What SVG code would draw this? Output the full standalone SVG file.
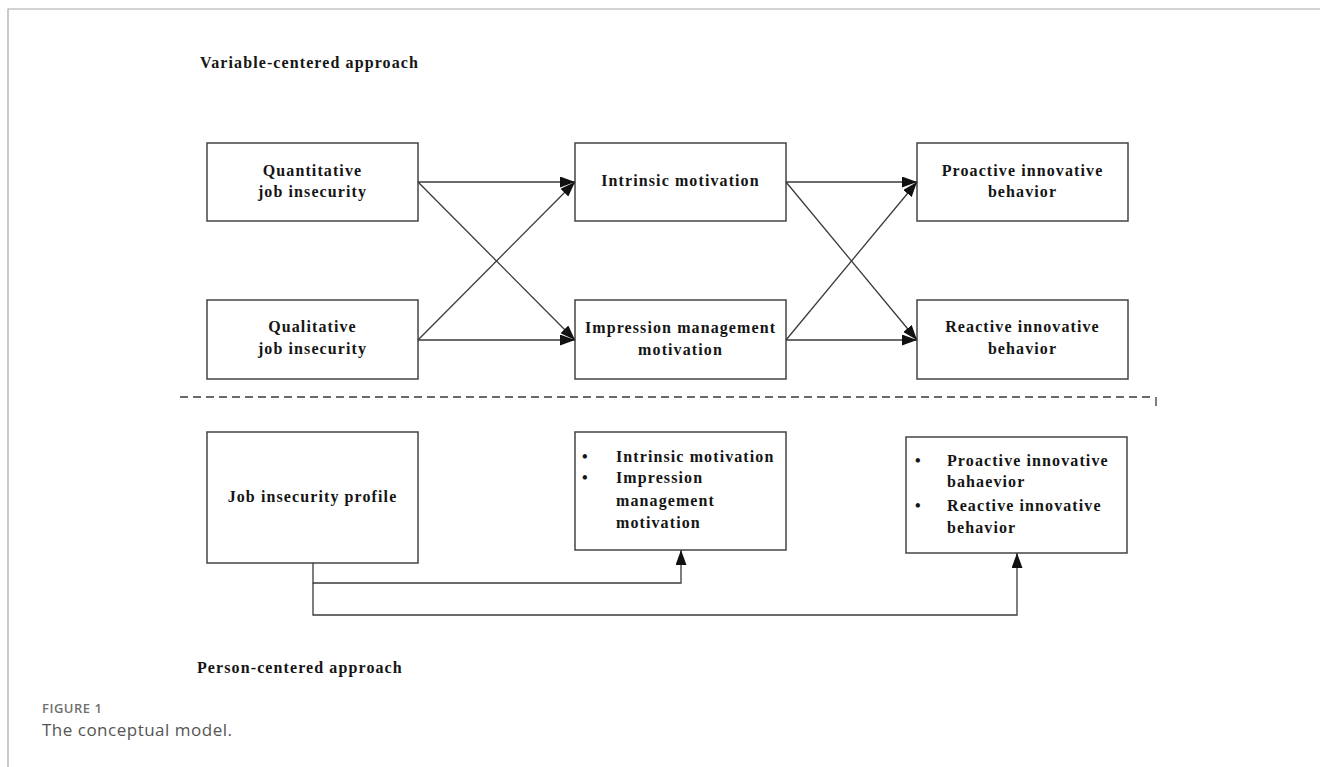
<svg xmlns="http://www.w3.org/2000/svg" width="1320" height="767" viewBox="0 0 1320 767">
  <style>
    .box { fill: #ffffff; stroke: #444444; stroke-width: 1.5; }
    .t { font-family: "Liberation Serif", "Times New Roman", serif; font-weight: bold; font-size: 16px; fill: #151515; letter-spacing: 1.1px; }
    .c { text-anchor: middle; }
    .conn { fill: none; stroke: #3a3a3a; stroke-width: 1.3; }
    .frame { fill: none; stroke: #a8a8a8; stroke-width: 1.2; }
  </style>
  <defs>
    <marker id="arrow" viewBox="0 0 15 11" refX="15" refY="5.5" markerWidth="15" markerHeight="11" markerUnits="userSpaceOnUse" orient="auto">
      <path d="M0,0 L15,5.5 L0,11 z" fill="#111111"/>
    </marker>
  </defs>
  <rect x="0" y="0" width="1320" height="767" fill="#ffffff"/>
  <path class="frame" d="M1320,9 H8 V767"/>

  <text class="t" x="200" y="68">Variable-centered approach</text>
  <text class="t" x="197" y="673">Person-centered approach</text>

  <g id="quantitative">
    <rect class="box" x="207" y="143" width="211" height="78"/>
    <text class="t c" x="312.5" y="176">Quantitative</text>
    <text class="t c" x="312.5" y="197">job insecurity</text>
  </g>
  <g id="qualitative">
    <rect class="box" x="207" y="300" width="211" height="79"/>
    <text class="t c" x="312.5" y="332">Qualitative</text>
    <text class="t c" x="312.5" y="354">job insecurity</text>
  </g>
  <g id="intrinsic">
    <rect class="box" x="575" y="143" width="211" height="78"/>
    <text class="t c" x="680.5" y="186">Intrinsic motivation</text>
  </g>
  <g id="impression">
    <rect class="box" x="575" y="300" width="211" height="79"/>
    <text class="t c" x="680.5" y="333">Impression management</text>
    <text class="t c" x="680.5" y="355">motivation</text>
  </g>
  <g id="proactive">
    <rect class="box" x="917" y="143" width="211" height="78"/>
    <text class="t c" x="1022.5" y="176">Proactive innovative</text>
    <text class="t c" x="1022.5" y="197">behavior</text>
  </g>
  <g id="reactive">
    <rect class="box" x="917" y="300" width="211" height="79"/>
    <text class="t c" x="1022.5" y="332">Reactive innovative</text>
    <text class="t c" x="1022.5" y="354">behavior</text>
  </g>

  <g id="separator">
    <line x1="180" y1="397" x2="1154" y2="397" stroke="#3a3a3a" stroke-width="1.3" stroke-dasharray="8,5"/>
    <line x1="1156" y1="397" x2="1156" y2="406" stroke="#3a3a3a" stroke-width="1.3"/>
  </g>

  <g id="profile">
    <rect class="box" x="207" y="432" width="211" height="131"/>
    <text class="t c" x="312.5" y="502">Job insecurity profile</text>
  </g>
  <g id="motivations">
    <rect class="box" x="575" y="432" width="211" height="118"/>
    <text class="t" x="582" y="462">•</text>
    <text class="t" x="616" y="462">Intrinsic motivation</text>
    <text class="t" x="582" y="483">•</text>
    <text class="t" x="616" y="483">Impression</text>
    <text class="t" x="616" y="506">management</text>
    <text class="t" x="616" y="528">motivation</text>
  </g>
  <g id="behaviors">
    <rect class="box" x="906" y="437" width="221" height="116"/>
    <text class="t" x="915" y="466">•</text>
    <text class="t" x="947" y="466">Proactive innovative</text>
    <text class="t" x="947" y="487">bahaevior</text>
    <text class="t" x="915" y="511">•</text>
    <text class="t" x="947" y="511">Reactive innovative</text>
    <text class="t" x="947" y="533">behavior</text>
  </g>

  <g id="connectors">
    <line class="conn" x1="418" y1="182" x2="575" y2="182" marker-end="url(#arrow)"/>
    <line class="conn" x1="418" y1="182" x2="575" y2="340" marker-end="url(#arrow)"/>
    <line class="conn" x1="418" y1="340" x2="575" y2="182" marker-end="url(#arrow)"/>
    <line class="conn" x1="418" y1="340" x2="575" y2="340" marker-end="url(#arrow)"/>
    <line class="conn" x1="786" y1="182" x2="917" y2="182" marker-end="url(#arrow)"/>
    <line class="conn" x1="786" y1="182" x2="917" y2="340" marker-end="url(#arrow)"/>
    <line class="conn" x1="786" y1="340" x2="917" y2="182" marker-end="url(#arrow)"/>
    <line class="conn" x1="786" y1="340" x2="917" y2="340" marker-end="url(#arrow)"/>
    <path class="conn" d="M313,563 V583 H681 V550" marker-end="url(#arrow)"/>
    <path class="conn" d="M313,583 V615 H1017 V553" marker-end="url(#arrow)"/>
  </g>

  <g id="caption">
    <text x="42" y="713" font-family="'Open Sans', 'Liberation Sans', sans-serif" font-weight="600" font-size="13" letter-spacing="0.5" fill="#707070">FIGURE 1</text>
    <text x="42" y="736" font-family="'Open Sans', 'Liberation Sans', sans-serif" font-size="17" letter-spacing="0.5" fill="#555555">The conceptual model.</text>
  </g>
</svg>
